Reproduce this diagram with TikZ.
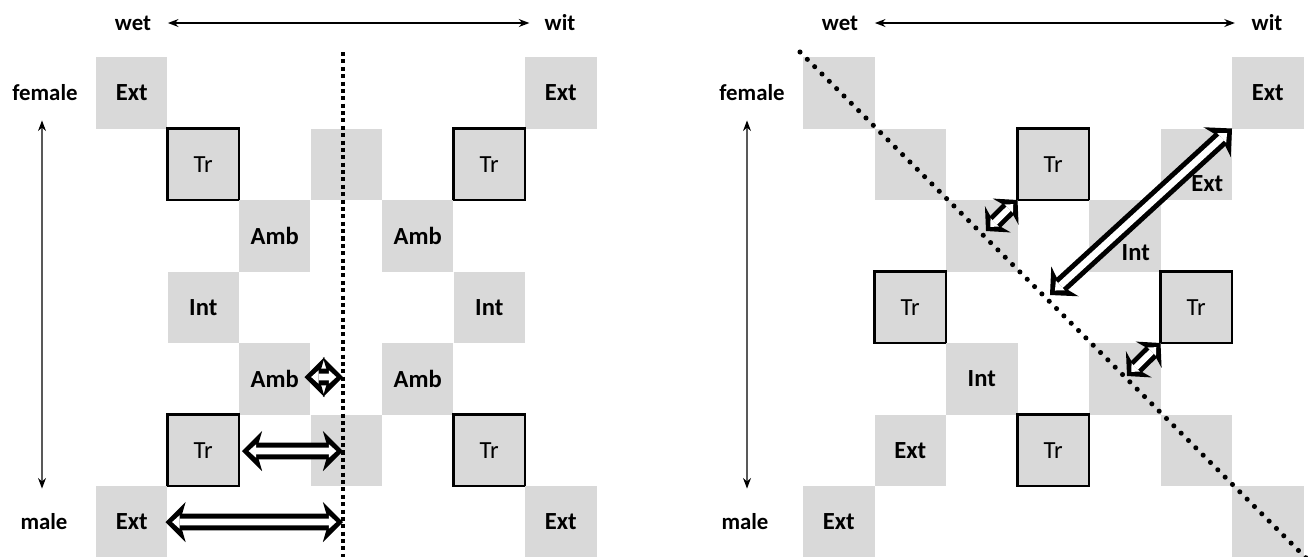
\documentclass[tikz,border=0pt]{standalone}
\usepackage{fontspec}
\setmainfont{Carlito}
\usetikzlibrary{arrows.meta}
\definecolor{cellgray}{RGB}{217,217,217}
\tikzstyle{cell} = [rectangle, fill=cellgray, minimum size=1.43cm, inner sep=0pt, outer sep=0pt, font=\fontsize{14}{16}\selectfont\bfseries]
\tikzstyle{trcell} = [cell, draw=black, line width=1.5pt, font=\fontsize{14}{16}\selectfont]
\tikzstyle{offsetlabel} = [inner sep=0pt, font=\fontsize{14}{16}\selectfont\bfseries]
\tikzstyle{axislabel} = [inner sep=0pt, font=\fontsize{13}{15}\selectfont\bfseries]
\tikzstyle{axisarrow} = [line width=0.8pt, {Stealth[length=6pt,width=4.5pt]}-{Stealth[length=6pt,width=4.5pt]}]
\tikzstyle{hollowarrow} = [line width=9.5pt,
    {Stealth[length=11.5pt,width=23pt,inset=3.4pt,line width=0pt]}-{Stealth[length=11.5pt,width=23pt,inset=3.4pt,line width=0pt]},
    postaction={draw=white, line width=3.8pt, shorten <=3.8pt, shorten >=3.8pt,
    {Triangle[length=4.2pt,width=7.6pt,line width=0pt]}-{Triangle[length=4.2pt,width=7.6pt,line width=0pt]}}]
\tikzstyle{smallhollow} = [line width=9pt,
    {Stealth[length=9.5pt,width=21pt,inset=3pt,line width=0pt]}-{Stealth[length=9.5pt,width=21pt,inset=3pt,line width=0pt]},
    postaction={draw=white, line width=3.5pt, shorten <=3.4pt, shorten >=3.4pt,
    {Triangle[length=3.6pt,width=6.8pt,line width=0pt]}-{Triangle[length=3.6pt,width=6.8pt,line width=0pt]}}]
\tikzstyle{cutline} = [line width=2.3pt, dash pattern=on 2.3pt off 1.9pt]
\tikzstyle{diagline} = [line width=2.9pt, line cap=round, dash pattern=on 0pt off 5.9pt]

\begin{document}
\begin{tikzpicture}[x=0.02cm, y=-0.02cm]
        \useasboundingbox (0,0) rectangle (1311,556);

        % left panel
        \node (wet-l) [axislabel] at (133,23) {wet};
        \node (wit-l) [axislabel] at (560,23) {wit};
        \node (female-l) [axislabel] at (45,93) {female};
        \node (male-l) [axislabel] at (44,522) {male};

        \node (l-0-0) [cell] at (131.75,92.75) {Ext};
        \node (l-0-6) [cell] at (560.75,92.75) {Ext};
        \node (l-1-1) [trcell] at (203.25,164.25) {Tr};
        \node (l-1-3) [cell] at (346.25,164.25) {};
        \node (l-1-5) [trcell] at (489.25,164.25) {Tr};
        \node (l-2-2) [cell] at (274.75,235.75) {Amb};
        \node (l-2-4) [cell] at (417.75,235.75) {Amb};
        \node (l-3-1) [cell] at (203.25,307.25) {Int};
        \node (l-3-5) [cell] at (489.25,307.25) {Int};
        \node (l-4-2) [cell] at (274.75,378.75) {Amb};
        \node (l-4-4) [cell] at (417.75,378.75) {Amb};
        \node (l-5-1) [trcell] at (203.25,450.25) {Tr};
        \node (l-5-3) [cell] at (346.25,450.25) {};
        \node (l-5-5) [trcell] at (489.25,450.25) {Tr};
        \node (l-6-0) [cell] at (131.75,521.75) {Ext};
        \node (l-6-6) [cell] at (560.75,521.75) {Ext};

        \coordinate (cut-top) at (343,52);
        \coordinate (cut-bot) at (343,560);
        \coordinate (cut-4) at (343,377);
        \coordinate (cut-5) at (343,451);
        \coordinate (cut-6) at (343,522);
        \draw [cutline] (cut-top) -- (cut-bot);

        \draw [axisarrow, shorten <=0.33cm, shorten >=0.3cm] (wet-l) -- (wit-l);
        \draw [axisarrow, shorten <=0.38cm, shorten >=0.5cm] ([xshift=-0.06cm]female-l.south) -- ([xshift=-0.04cm]male-l.north);
        \draw [hollowarrow] ([xshift=-0.12cm, yshift=0.035cm]l-4-2.east) -- (cut-4);
        \draw [hollowarrow] ([xshift=0.06cm, yshift=-0.015cm]l-5-1.east) -- (cut-5);
        \draw [hollowarrow] ([xshift=-0.04cm, yshift=-0.005cm]l-6-0.east) -- (cut-6);

        % right panel
        \node (wet-r) [axislabel] at (840,23) {wet};
        \node (wit-r) [axislabel] at (1267,23) {wit};
        \node (female-r) [axislabel] at (752,93) {female};
        \node (male-r) [axislabel] at (745,522) {male};

        \node (r-0-0) [cell] at (838.75,92.75) {};
        \node (r-0-6) [cell] at (1267.75,92.75) {Ext};
        \node (r-1-1) [cell] at (910.25,164.25) {};
        \node (r-1-3) [trcell] at (1053.25,164.25) {Tr};
        \node (r-1-5) [cell, label={[offsetlabel, xshift=0.22cm, yshift=-0.38cm]center:Ext}] at (1196.25,164.25) {};
        \node (r-2-2) [cell] at (981.75,235.75) {};
        \node (r-2-4) [cell, label={[offsetlabel, xshift=0.22cm, yshift=-0.33cm]center:Int}] at (1124.75,235.75) {};
        \node (r-3-1) [trcell] at (910.25,307.25) {Tr};
        \node (r-3-5) [trcell] at (1196.25,307.25) {Tr};
        \node (r-4-2) [cell] at (981.75,378.75) {Int};
        \node (r-4-4) [cell] at (1124.75,378.75) {};
        \node (r-5-1) [cell] at (910.25,450.25) {Ext};
        \node (r-5-3) [trcell] at (1053.25,450.25) {Tr};
        \node (r-5-5) [cell] at (1196.25,450.25) {};
        \node (r-6-0) [cell] at (838.75,521.75) {Ext};
        \node (r-6-6) [cell] at (1267.75,521.75) {};

        \coordinate (diag-top) at (800,52);
        \coordinate (diag-bot) at (1306,558);
        \coordinate (diag-a) at (986,231);
        \coordinate (diag-b) at (1127,376);
        \coordinate (diag-c) at (1050,295);
        \draw [diagline] (diag-top) -- (diag-bot);

        \draw [axisarrow, shorten <=0.33cm, shorten >=0.33cm] (wet-r) -- (wit-r);
        \draw [axisarrow, shorten <=0.38cm, shorten >=0.5cm] ([xshift=-0.1cm]female-r.south) -- ([xshift=0.04cm]male-r.north);
        \draw [smallhollow] (r-1-3.south west) -- (diag-a);
        \draw [smallhollow] (r-3-5.south west) -- (diag-b);
        \draw [hollowarrow] (r-0-6.south west) -- (diag-c);
\end{tikzpicture}
\end{document}
